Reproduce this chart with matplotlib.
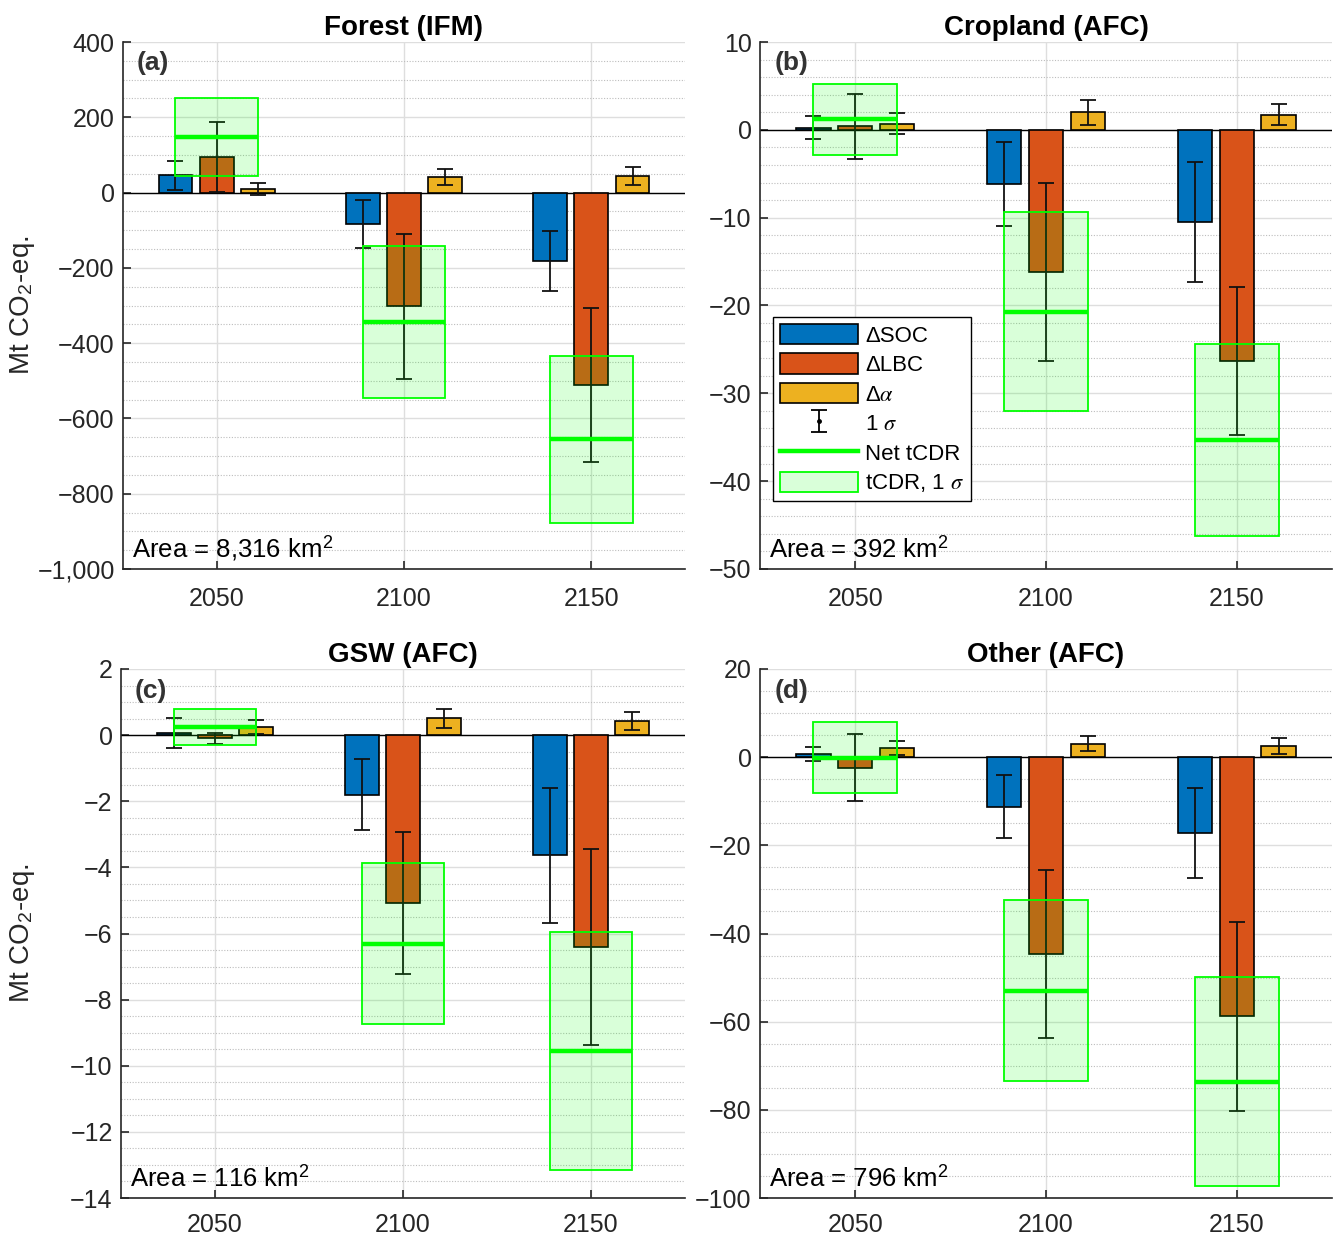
"""Stacked carbon / albedo components and net tCDR per land type, 2050-2150."""

import matplotlib

matplotlib.use("Agg")
import matplotlib.pyplot as plt
import numpy as np
from matplotlib.lines import Line2D
from matplotlib.patches import Patch, Rectangle
from matplotlib.ticker import AutoMinorLocator, FuncFormatter, MultipleLocator

plt.rcParams["font.family"] = ["Liberation Sans", "DejaVu Sans"]
plt.rcParams["mathtext.fontset"] = "stix"

years = [2050, 2100, 2150]
panel_titles = ["Forest (IFM)", "Cropland (AFC)", "GSW (AFC)", "Other (AFC)"]
panel_tags = ["(a)", "(b)", "(c)", "(d)"]
areas = ["8,316", "392", "116", "796"]

# values per panel, one entry per year
soc = [[46, -83, -181], [0.25, -6.2, -10.5], [0.07, -1.8, -3.63], [0.75, -11.2, -17.2]]
soc_err = [[38, 63, 80], [1.3, 4.8, 6.8], [0.45, 1.07, 2.04], [1.55, 7.2, 10.2]]
lbc = [[95, -302, -511], [0.4, -16.2, -26.3], [-0.1, -5.07, -6.4], [-2.4, -44.7, -58.8]]
lbc_err = [[93, 193, 205], [3.7, 10.1, 8.4], [0.17, 2.15, 2.96], [7.6, 19.0, 21.4]]
alb = [[10, 41, 44], [0.7, 2.0, 1.7], [0.24, 0.51, 0.42], [2.1, 3.1, 2.6]]
alb_err = [[16, 21, 25], [1.2, 1.4, 1.2], [0.22, 0.29, 0.27], [1.5, 1.7, 1.8]]
net = [[147, -344, -655], [1.2, -20.7, -35.3], [0.25, -6.31, -9.55], [-0.1, -53.0, -73.6]]
net_err = [[104, 203, 222], [4.05, 11.3, 10.9], [0.55, 2.43, 3.6], [8.1, 20.5, 23.7]]

ylims = [(-1000, 400), (-50, 10), (-14, 2), (-100, 20)]
ysteps = [200, 10, 2, 20]
yminor = [4, 5, 4, 4]

c_soc = "#0072BD"
c_lbc = "#D95319"
c_alb = "#EDB120"
c_net = "#00FF00"
box_face = (0.0, 1.0, 0.0, 0.15)
txt = "#262626"

W, H = 1335, 1236
fig = plt.figure(figsize=(W / 100, H / 100), dpi=100)
rects = [
    (123, 42, 685, 569),
    (760, 42, 1332, 569),
    (121, 669, 685, 1198),
    (760, 669, 1332, 1198),
]

x = np.array(years, dtype=float)
off = 11.0
bw = 9.0


def fmt_tick(v, _pos):
    s = f"{v:,.0f}" if abs(v) >= 1 or v == 0 else f"{v:g}"
    return s.replace("-", "\u2212")


axes = []
for i, (l, t, r, b) in enumerate(rects):
    ax = fig.add_axes([l / W, 1 - b / H, (r - l) / W, (b - t) / H])
    axes.append(ax)
    ax.set_axisbelow(True)

    ax.axhline(0, color="black", lw=1.0, zorder=1.5)
    ax.bar(x - off, soc[i], width=bw, color=c_soc, edgecolor="black", lw=1.2, zorder=2)
    ax.bar(x, lbc[i], width=bw, color=c_lbc, edgecolor="black", lw=1.2, zorder=2)
    ax.bar(x + off, alb[i], width=bw, color=c_alb, edgecolor="black", lw=1.2, zorder=2)
    for dx, vals, errs in [(-off, soc[i], soc_err[i]), (0, lbc[i], lbc_err[i]),
                           (off, alb[i], alb_err[i])]:
        ax.errorbar(x + dx, vals, yerr=errs, fmt="none", ecolor="#111111",
                    elinewidth=1.3, capsize=6, capthick=1.3, zorder=2.5)

    for j, yr in enumerate(years):
        lo = net[i][j] - net_err[i][j]
        ax.add_patch(Rectangle((yr - off, lo), 2 * off, 2 * net_err[i][j],
                               facecolor=box_face, edgecolor=c_net, lw=1.3, zorder=3))
        ax.plot([yr - off, yr + off], [net[i][j], net[i][j]], color=c_net,
                lw=3.2, solid_capstyle="butt", zorder=4)

    ax.set_xlim(2025, 2175)
    ax.set_ylim(*ylims[i])
    ax.set_xticks(years)
    ax.yaxis.set_major_locator(MultipleLocator(ysteps[i]))
    ax.yaxis.set_minor_locator(AutoMinorLocator(yminor[i]))
    ax.yaxis.set_major_formatter(FuncFormatter(fmt_tick))

    ax.grid(which="major", color="#dedede", lw=1.0, ls="-")
    ax.grid(which="minor", axis="y", color="#bdbdbd", lw=0.8, ls=(0, (1, 1.5)))

    for s in ["top", "right"]:
        ax.spines[s].set_visible(False)
    for s in ["left", "bottom"]:
        ax.spines[s].set_color(txt)
        ax.spines[s].set_linewidth(1.2)
    ax.tick_params(axis="both", which="major", direction="in", length=6, width=1.2,
                   colors=txt, labelsize=18)
    # bottom row sits close to the figure edge
    ax.tick_params(axis="x", pad=13 if i < 2 else 10.5)
    ax.tick_params(axis="y", pad=6)
    ax.tick_params(which="minor", length=0)

    ax.set_title(panel_titles[i], fontsize=20, fontweight="bold", color="black", pad=5)
    ax.text(0.025, 0.982, panel_tags[i], transform=ax.transAxes, ha="left", va="top",
            fontsize=19, fontweight="bold", color="#333333")
    ax.text(0.016, 0.012, f"Area = {areas[i]} km$^\\mathregular{{2}}$",
            transform=ax.transAxes, ha="left", va="bottom", fontsize=18.5, color="black")
    if i in (0, 2):
        ax.set_ylabel("Mt CO$_\\mathregular{2}$-eq.", fontsize=20, color=txt)
        ax.yaxis.set_label_coords((37 - l) / (r - l), 0.5)

# legend in panel (b)
ax = axes[1]
eb = ax.errorbar([np.nan], [np.nan], yerr=[1], fmt=".", color="black", ms=5,
                 elinewidth=1.3, capsize=6, capthick=1.3)
handles = [
    Patch(facecolor=c_soc, edgecolor="black", lw=1.2),
    Patch(facecolor=c_lbc, edgecolor="black", lw=1.2),
    Patch(facecolor=c_alb, edgecolor="black", lw=1.2),
    eb,
    Line2D([], [], color=c_net, lw=3.2),
    Patch(facecolor=box_face, edgecolor=c_net, lw=1.3),
]
labels = ["\u0394SOC", "\u0394LBC", "\u0394$\\alpha$", "1 $\\sigma$", "Net tCDR",
          "tCDR, 1 $\\sigma$"]
leg = ax.legend(handles, labels, loc="upper left", bbox_to_anchor=(0.023, 0.478),
                borderaxespad=0, fontsize=16, handlelength=3.5, handleheight=1.05,
                labelspacing=0.3, handletextpad=0.35, borderpad=0.3,
                fancybox=False, framealpha=1, edgecolor="black")
leg.get_frame().set_linewidth(1.0)
leg.set_zorder(10)

fig.savefig("out.png", dpi=100)
